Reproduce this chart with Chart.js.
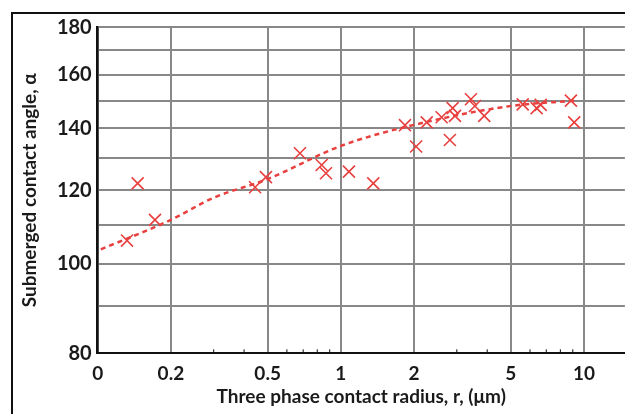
<!DOCTYPE html>
<html>
<head>
<meta charset="utf-8">
<script src="https://cdn.jsdelivr.net/npm/chart.js@4.4.1/dist/chart.umd.min.js"></script>
<style>
  body { margin: 0; background: #fff; }
  #wrap { position: relative; width: 625px; height: 414px; overflow: hidden; }
  #frame { position: absolute; left: 11px; top: 12px; right: -10px; bottom: -10px;
           border-left: 2px solid #111; border-top: 2px solid #111; }
  canvas { position: absolute; left: 0; top: 0; }
</style>
</head>
<body>
<div id="wrap">
  <div id="frame"></div>
  <!-- a bit wider than the window: the plot is cut off at the right edge -->
  <canvas id="myChart" width="635" height="414"></canvas>
</div>
<script>
// measured points
const radius = [0.132, 0.146, 0.172, 0.444, 0.492, 0.679, 0.834, 0.869, 1.08, 1.36,
  1.836, 2.04, 2.256, 2.599, 2.81, 2.884, 2.948, 3.43, 3.56, 3.89,
  5.6, 6.39, 6.64, 8.84, 9.12];
const angle = [105.9, 122.1, 111.5, 120.9, 124.0, 131.6, 127.8, 125.2, 125.7, 122.1,
  141.1, 133.8, 142.1, 143.9, 136.0, 147.2, 144.4, 150.5, 148.0, 144.4,
  148.6, 147.2, 148.4, 150.0, 142.1];

// dotted trend curve
const trendR = [0.103, 0.2, 0.3, 0.5, 1, 2, 5, 9.4];
const trendA = [103.6, 111.5, 117.8, 123.4, 134.0, 141.2, 148.0, 150.0];

// axis ticks
const xTicks = [0.1, 0.2, 0.5, 1, 2, 5, 10];
const xTickLabels = ['0', '0.2', '0.5', '1', '2', '5', '10'];
const xMinor = [0.3, 0.4, 0.6, 0.7, 0.8, 0.9, 3, 4, 6, 7, 8, 9];
const yTicks = [80, 90, 100, 110, 120, 130, 140, 150, 160, 170, 180];
const yTickLabels = ['80', '', '100', '', '120', '', '140', '', '160', '', '180'];

const red = '#e8403f';
const grey = '#888888';

// little inward ticks on the x axis
const minorTicks = {
  id: 'minorTicks',
  afterDatasetsDraw(chart) {
    const ctx = chart.ctx;
    const x = chart.scales.x;
    const y0 = chart.chartArea.bottom;
    ctx.save();
    ctx.strokeStyle = '#111';
    ctx.lineWidth = 1;
    xMinor.forEach(function (v) {
      const px = x.getPixelForValue(v);
      ctx.beginPath();
      ctx.moveTo(px, y0);
      ctx.lineTo(px, y0 - 4);
      ctx.stroke();
    });
    ctx.restore();
  }
};

const ctx = document.getElementById('myChart').getContext('2d');
const myChart = new Chart(ctx, {
  data: {
    datasets: [{
      type: 'scatter',
      data: radius.map(function (r, i) { return {x: r, y: angle[i]}; }),
      pointStyle: 'crossRot',
      pointRadius: 8.5,
      pointBorderWidth: 1.6,
      borderColor: red,
      backgroundColor: red
    }, {
      type: 'line',
      data: trendR.map(function (r, i) { return {x: r, y: trendA[i]}; }),
      borderColor: red,
      borderWidth: 2.5,
      borderDash: [5, 4],
      pointRadius: 0,
      cubicInterpolationMode: 'monotone',
      fill: false
    }]
  },
  options: {
    responsive: false,
    animation: false,
    devicePixelRatio: 1,
    layout: { padding: { top: 27.3, left: 0, right: 0, bottom: 0 } },
    plugins: { legend: { display: false }, tooltip: { enabled: false } },
    scales: {
      x: {
        type: 'logarithmic',
        min: 0.1,
        max: 14.74,
        afterBuildTicks: function (scale) {
          scale.ticks = xTicks.map(function (v) { return {value: v}; });
        },
        afterFit: function (scale) {
          scale.height = 60.7;
          scale.paddingLeft = 0;
          scale.paddingRight = 0;
        },
        grid: { color: grey, lineWidth: 2, drawTicks: false },
        border: { color: '#111', width: 2 },
        ticks: {
          autoSkip: false,
          maxRotation: 0,
          padding: 9,
          color: '#1a1a1a',
          font: { family: 'Lato', size: 19, weight: 'bold' },
          callback: function (v, i) { return xTickLabels[i]; }
        },
        title: {
          display: true,
          text: 'Three phase contact radius, r, (μm)',
          color: '#1a1a1a',
          font: { family: 'Lato', size: 19, weight: 'bold' },
          padding: { top: 0, bottom: 6 }
        }
      },
      y: {
        type: 'logarithmic',
        min: 80,
        max: 180,
        afterBuildTicks: function (scale) {
          scale.ticks = yTicks.map(function (v) { return {value: v}; });
        },
        afterFit: function (scale) { scale.width = 97.7; },
        grid: { color: grey, lineWidth: 2, drawTicks: false },
        border: { color: '#111', width: 2.5 },
        ticks: {
          autoSkip: false,
          padding: 6,
          color: '#1a1a1a',
          font: { family: 'Lato', size: 20, weight: 'bold' },
          callback: function (v, i) { return yTickLabels[i]; }
        },
        title: {
          display: true,
          text: 'Submerged contact angle, α',
          color: '#1a1a1a',
          font: { family: 'Lato', size: 19, weight: 'bold' },
          padding: { top: 18, bottom: 0 }
        }
      }
    }
  },
  plugins: [minorTicks]
});
</script>
</body>
</html>
